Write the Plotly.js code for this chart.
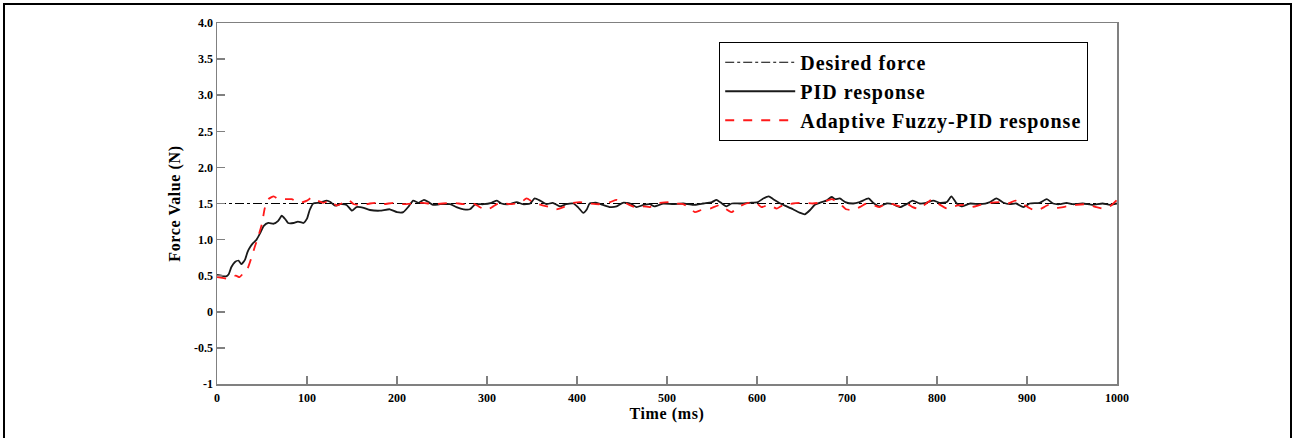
<!DOCTYPE html>
<html>
<head>
<meta charset="utf-8">
<script src="https://cdn.plot.ly/plotly-3.0.1.min.js"></script>
<style>
html,body{margin:0;padding:0;background:#fff;}
#chart{position:absolute;left:0;top:0;width:1293px;height:438px;}
#frame{position:absolute;left:3px;top:3px;width:1289px;height:460px;box-sizing:border-box;border-top:2px solid #000;border-left:2px solid #000;border-right:2px solid #000;pointer-events:none;}
.legendtext{letter-spacing:1px;}
.xtitle,.ytitle{letter-spacing:0.6px;}
</style>
</head>
<body>
<div id="chart"></div>
<div id="frame"></div>
<script>
// ---- data ----
const seriesNames = ["Desired force", "PID response", "Adaptive Fuzzy-PID response"];

const tDesired = [0, 1000];
const fDesired = [1.5, 1.5];

const tPID = [0,5,10,13,16,20,24,27,31,34,37,40,44,48,52,57,63,68,72,76,79,85,90,96,100,103,107,114,122,126,131,137,144,150,155,159,163,170,181,192,200,207,213,218,224,230,235,240,248,259,266,274,281,287,296,305,311,316,325,333,340,348,353,359,366,373,381,388,396,401,407,411,414,422,429,437,444,451,459,466,474,481,486,496,507,518,529,540,550,555,561,566,572,581,592,601,607,613,618,626,633,640,648,653,659,664,672,677,683,687,692,698,707,714,724,729,736,744,751,759,766,773,781,788,796,803,811,816,822,827,837,848,859,866,874,881,888,896,903,914,922,929,936,944,951,962,973,984,992,1000];
const fPID = [0.51,0.50,0.49,0.52,0.62,0.69,0.71,0.66,0.72,0.83,0.90,0.95,1.00,1.09,1.19,1.23,1.22,1.26,1.33,1.28,1.23,1.23,1.25,1.23,1.29,1.41,1.50,1.51,1.54,1.52,1.47,1.49,1.48,1.40,1.45,1.45,1.44,1.41,1.40,1.42,1.38,1.38,1.46,1.54,1.51,1.55,1.52,1.48,1.49,1.49,1.45,1.42,1.42,1.49,1.49,1.51,1.54,1.50,1.49,1.52,1.49,1.50,1.57,1.54,1.49,1.51,1.46,1.49,1.50,1.45,1.37,1.42,1.50,1.51,1.48,1.45,1.46,1.51,1.50,1.45,1.48,1.49,1.46,1.50,1.49,1.50,1.48,1.50,1.52,1.55,1.50,1.46,1.50,1.50,1.51,1.52,1.57,1.60,1.56,1.50,1.46,1.42,1.37,1.35,1.41,1.48,1.52,1.54,1.59,1.56,1.57,1.52,1.50,1.52,1.57,1.51,1.46,1.50,1.49,1.45,1.49,1.54,1.50,1.51,1.54,1.51,1.52,1.60,1.50,1.46,1.50,1.49,1.52,1.57,1.51,1.49,1.50,1.45,1.50,1.51,1.56,1.50,1.49,1.51,1.49,1.50,1.48,1.50,1.48,1.50];

const tFuzzy = [0,6,11,16,21,25,29,34,38,42,46,50,53,57,63,68,76,83,92,100,105,110,118,126,133,140,146,152,159,163,170,177,185,196,207,218,229,240,251,263,274,285,292,300,307,314,325,337,344,351,360,370,377,385,392,403,414,425,437,444,455,466,474,481,486,492,503,510,518,525,531,538,548,559,566,572,579,588,598,605,613,622,629,640,651,662,674,683,692,699,707,714,722,729,736,744,751,759,766,773,781,786,794,801,811,818,829,838,848,859,870,879,887,894,901,909,916,924,933,944,955,966,977,985,992,1000];
const fFuzzy = [0.48,0.47,0.46,0.49,0.50,0.48,0.53,0.60,0.74,0.90,1.05,1.22,1.43,1.56,1.60,1.56,1.56,1.56,1.51,1.54,1.58,1.55,1.51,1.54,1.47,1.51,1.55,1.49,1.48,1.48,1.50,1.51,1.49,1.51,1.49,1.50,1.51,1.49,1.50,1.51,1.49,1.50,1.45,1.41,1.46,1.51,1.49,1.51,1.57,1.52,1.48,1.45,1.42,1.45,1.50,1.52,1.50,1.49,1.52,1.55,1.50,1.44,1.46,1.45,1.50,1.51,1.52,1.50,1.49,1.44,1.38,1.41,1.43,1.48,1.42,1.38,1.45,1.50,1.52,1.45,1.48,1.43,1.48,1.50,1.51,1.50,1.52,1.56,1.50,1.42,1.41,1.45,1.50,1.48,1.45,1.50,1.49,1.46,1.50,1.45,1.42,1.48,1.55,1.50,1.43,1.46,1.48,1.45,1.48,1.51,1.52,1.50,1.54,1.50,1.45,1.40,1.43,1.48,1.44,1.46,1.48,1.49,1.45,1.43,1.46,1.55];

const yTickVals = [-1,-0.5,0,0.5,1,1.5,2,2.5,3,3.5,4];
const yTickText = ["-1","-0.5","0","0.5","1.0","1.5","2.0","2.5","3.0","3.5","4.0"];
const xTickVals = [0,100,200,300,400,500,600,700,800,900,1000];
const xTickText = ["0","100","200","300","400","500","600","700","800","900","1000"];

// ---- chart ----
const serif = "Liberation Serif, Times New Roman, serif";
const traces = [
  {x: tDesired, y: fDesired, name: seriesNames[0], mode: "lines",
   line: {color: "#000", width: 1.2, dash: "dashdot"}},
  {x: tPID, y: fPID, name: seriesNames[1], mode: "lines",
   line: {color: "#1a1a1a", width: 1.8, shape: "spline", smoothing: 0.5}},
  {x: tFuzzy, y: fFuzzy, name: seriesNames[2], mode: "lines",
   line: {color: "#ff1a1a", width: 1.8, dash: "dash", shape: "spline", smoothing: 0.5}}
];

const axisCommon = {
  showgrid: false, zeroline: false, showline: true, mirror: true,
  linecolor: "#808080", linewidth: 1.5,
  ticks: "inside", ticklen: 8, tickwidth: 1.5, tickcolor: "#808080",
  tickfont: {family: serif, size: 12, color: "#000", weight: "bold"}
};

const layout = {
  width: 1293, height: 438,
  margin: {l: 217, r: 176, t: 23, b: 54},
  paper_bgcolor: "#fff", plot_bgcolor: "#fff",
  showlegend: true,
  legend: {
    x: 0.558, y: 0.948, xanchor: "left", yanchor: "top",
    bgcolor: "#fff", bordercolor: "#000", borderwidth: 1,
    font: {family: serif, size: 20, color: "#000", weight: "bold"},
    itemwidth: 70, tracegroupgap: 0
  },
  xaxis: Object.assign({}, axisCommon, {
    range: [0, 1000], tickvals: xTickVals, ticktext: xTickText, ticklabelstandoff: 2,
    title: {text: "Time (ms)", font: {family: serif, size: 16, color: "#000", weight: "bold"}, standoff: 1}
  }),
  yaxis: Object.assign({}, axisCommon, {
    range: [-1, 4], tickvals: yTickVals, ticktext: yTickText,
    title: {text: "Force Value (N)", font: {family: serif, size: 16, color: "#000", weight: "bold"}, standoff: 9}
  })
};

Plotly.newPlot("chart", traces, layout, {displayModeBar: false, staticPlot: true});
</script>
</body>
</html>
